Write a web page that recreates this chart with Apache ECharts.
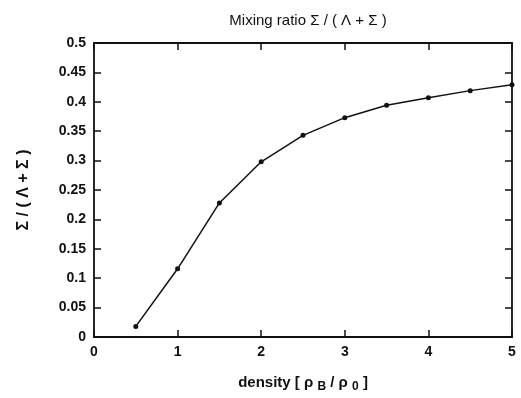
<!DOCTYPE html>
<html>
<head>
<meta charset="utf-8">
<script src="https://cdn.jsdelivr.net/npm/echarts@6/dist/echarts.min.js"></script>
<style>html,body{margin:0;padding:0;background:#fff}#c{width:521px;height:398px}</style>
</head>
<body>
<div id="c"></div>
<script>
var densities = [0.5, 1.0, 1.5, 2.0, 2.5, 3.0, 3.5, 4.0, 4.5, 5.0];
var ratios = [0.018, 0.116, 0.228, 0.298, 0.343, 0.373, 0.394, 0.407, 0.419, 0.429];
var xTicks = [0, 1, 2, 3, 4, 5];
var yTicks = [0, 0.05, 0.1, 0.15, 0.2, 0.25, 0.3, 0.35, 0.4, 0.45, 0.5];

var font = '"Liberation Sans", Arial, sans-serif';
var chart = echarts.init(document.getElementById('c'));
var axisLine = {show: true, onZero: false, lineStyle: {color: '#111', width: 1.8}};
var tick = {show: true, inside: true, length: 7, lineStyle: {color: '#111', width: 1.5}};
chart.setOption({
  animation: false,
  backgroundColor: '#fff',
  title: {
    text: 'Mixing ratio Σ / ( Λ + Σ )',
    left: 303, top: 8, textAlign: 'center',
    textStyle: {fontFamily: font, fontSize: 15, fontWeight: 'normal', color: '#111'}
  },
  grid: {left: 94, top: 43, right: 9, bottom: 59},
  xAxis: [{
    type: 'value', min: 0, max: 5, interval: 1,
    axisLine: axisLine, axisTick: tick, splitLine: {show: false},
    axisLabel: {fontFamily: font, fontSize: 14, fontWeight: 'bold', color: '#111', margin: 8},
    name: '{a|density [ ρ }{s|B}{a| / ρ }{s|0}{a| ]}',
    nameLocation: 'middle', nameGap: 35,
    nameTextStyle: {
      rich: {
        a: {fontFamily: font, fontSize: 15, fontWeight: 'bold', color: '#111'},
        s: {fontFamily: font, fontSize: 12, fontWeight: 'bold', color: '#111', padding: [9, 0, 0, 0]}
      }
    }
  }, {
    type: 'value', min: 0, max: 5, interval: 1, position: 'top',
    axisLine: axisLine, axisTick: tick, axisLabel: {show: false}, splitLine: {show: false}
  }],
  yAxis: [{
    type: 'value', min: 0, max: 0.5, interval: 0.05,
    axisLine: axisLine, axisTick: tick, splitLine: {show: false},
    axisLabel: {fontFamily: font, fontSize: 14, fontWeight: 'bold', color: '#111', margin: 8,
      formatter: function (v) { return String(+v.toFixed(2)); }},
    name: 'Σ / ( Λ + Σ )', nameLocation: 'middle', nameGap: 62, nameRotate: 90,
    nameTextStyle: {fontFamily: font, fontSize: 16, fontWeight: 'bold', color: '#111'}
  }, {
    type: 'value', min: 0, max: 0.5, interval: 0.05, position: 'right',
    axisLine: axisLine, axisTick: tick, axisLabel: {show: false}, splitLine: {show: false}
  }],
  series: [{
    type: 'line',
    data: densities.map(function (d, i) { return [d, ratios[i]]; }),
    symbol: 'circle', symbolSize: 5,
    itemStyle: {color: '#111'},
    lineStyle: {color: '#111', width: 1.5},
    clip: false
  }]
});
</script>
</body>
</html>
